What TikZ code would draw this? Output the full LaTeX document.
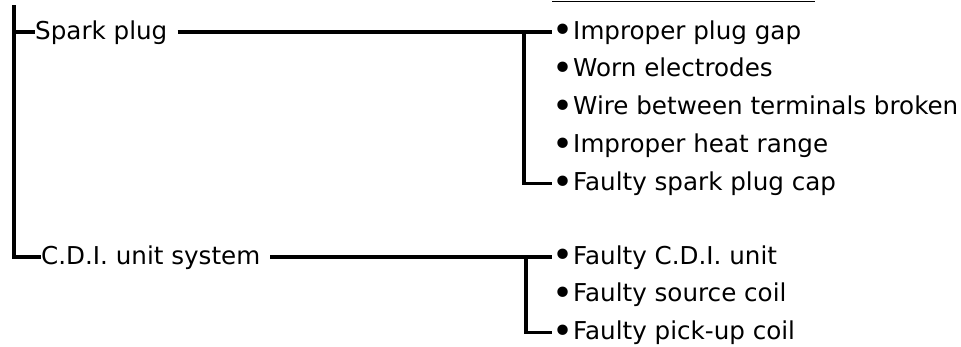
\documentclass[tikz,border=0pt]{standalone}
\usepackage{fontspec}
\setmainfont{DejaVu Sans}
\usepackage{tikz}
\usetikzlibrary{positioning}

\newcommand\bul{\raisebox{-3.6pt}{\scalebox{1.45}{•}}}

\begin{document}
\begin{tikzpicture}[x=1pt,y=-1pt,
  lbl/.style={inner sep=0pt,text height=18pt,text depth=4pt,
    font=\fontsize{24.6pt}{29pt}\selectfont},
  item/.style={lbl,anchor=west},
  conn/.style={line width=3.3pt}]
\useasboundingbox (0,0) rectangle (961,346);

% cut-off rule of the heading above
\draw[line width=1.6pt] (552,1.5) -- (815,1.5);

\coordinate (top) at (14,5);
\node[item] (spark) at (35,32) {Spark plug};
\node[item] (cdi) at (41,257) {C.D.I. unit system};

\node[item] (gap) at (552,32) {\bul Improper plug gap};
\node[item,below right=15.5pt and 0pt of gap.south west] (worn) {\bul Worn electrodes};
\node[item,below right=15.5pt and 0pt of worn.south west] (wire) {\bul Wire between terminals broken};
\node[item,below right=15.5pt and 0pt of wire.south west] (heat) {\bul Improper heat range};
\node[item,below right=15.5pt and 0pt of heat.south west] (cap) {\bul Faulty spark plug cap};

\node[item] (unit) at (552,257) {\bul Faulty C.D.I. unit};
\node[item,below right=15.5pt and 0pt of unit.south west] (source) {\bul Faulty source coil};
\node[item,below right=15.5pt and 0pt of source.south west] (pickup) {\bul Faulty pick-up coil};

\coordinate (j1) at (524,32);
\coordinate (j2) at (526,257);

\draw[conn] (top) |- (spark.west);
\draw[conn] (top) |- (cdi.west);
\draw[conn,shorten <=10pt] (spark.east) -- (gap.west);
\draw[conn] (j1) |- (cap.west);
\draw[conn,shorten <=10pt] (cdi.east) -- (unit.west);
\draw[conn] (j2) |- (pickup.west);
\end{tikzpicture}
\end{document}
